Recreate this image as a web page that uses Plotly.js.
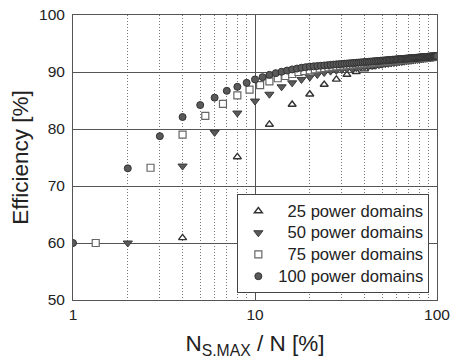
<!DOCTYPE html>
<html>
<head>
<meta charset="utf-8">
<script src="https://cdn.plot.ly/plotly-3.0.1.min.js"></script>
<style>html,body{margin:0;padding:0;background:#fff;}#chart{width:455px;height:362px;}</style>
</head>
<body>
<div id="chart"></div>
<script>
// Efficiency [%]; x = N_S.MAX / N [%]
const x25 = [4,8,12,16,20,24,28,32,36,40,44,48,52,56,60,64,68,72,76,80,84,88,92,96,100];
const eff25 = [60.9,75.1,80.8,84.3,86.1,87.8,88.7,89.55,90.05,90.5,90.9,91.15,91.35,91.55,91.72,91.88,92.0,92.12,92.22,92.32,92.4,92.47,92.53,92.58,92.62];

const x50 = [2,4,6,8,10,12,14,16,18,20,22,24,26,28,30,32,34,36,38,40,42,44,46,48,50,52,54,56,58,60,62,64,66,68,70,72,74,76,78,80,82,84,86,88,90,92,94,96,98,100];
const eff50 = [60.0,73.5,79.4,82.8,84.9,86.1,87.4,88.1,88.7,89.1,89.55,89.9,90.15,90.29,90.42,90.54,90.65,90.75,90.85,90.95,91.04,91.13,91.21,91.29,91.36,91.44,91.51,91.57,91.64,91.7,91.76,91.82,91.88,91.93,91.99,92.04,92.09,92.14,92.19,92.23,92.28,92.32,92.37,92.41,92.45,92.49,92.53,92.57,92.61,92.65];

const x75 = [1.333,2.667,4,5.333,6.667,8,9.333,10.667,12,13.333,14.667,16,17.333,18.667,20,21.333,22.667,24,25.333,26.667,28,29.333,30.667,32,33.333,34.667,36,37.333,38.667,40,41.333,42.667,44,45.333,46.667,48,49.333,50.667,52,53.333,54.667,56,57.333,58.667,60,61.333,62.667,64,65.333,66.667,68,69.333,70.667,72,73.333,74.667,76,77.333,78.667,80,81.333,82.667,84,85.333,86.667,88,89.333,90.667,92,93.333,94.667,96,97.333,98.667,100];
const eff75 = [60.0,73.2,79.0,82.3,84.4,85.9,86.9,87.7,88.35,88.9,89.3,89.65,90.0,90.15,90.3,90.45,90.6,90.7,90.8,90.9,91.0,91.06,91.12,91.18,91.24,91.29,91.34,91.39,91.44,91.49,91.53,91.58,91.62,91.66,91.7,91.74,91.78,91.81,91.85,91.88,91.92,91.95,91.98,92.02,92.05,92.08,92.11,92.13,92.16,92.19,92.22,92.24,92.27,92.3,92.32,92.35,92.37,92.39,92.42,92.44,92.46,92.49,92.51,92.53,92.55,92.57,92.59,92.61,92.63,92.65,92.67,92.69,92.71,92.73,92.75];

const x100 = [1,2,3,4,5,6,7,8,9,10,11,12,13,14,15,16,17,18,19,20,21,22,23,24,25,26,27,28,29,30,31,32,33,34,35,36,37,38,39,40,41,42,43,44,45,46,47,48,49,50,51,52,53,54,55,56,57,58,59,60,61,62,63,64,65,66,67,68,69,70,71,72,73,74,75,76,77,78,79,80,81,82,83,84,85,86,87,88,89,90,91,92,93,94,95,96,97,98,99,100];
const eff100 = [60.0,73.1,78.75,82.1,84.2,85.5,86.7,87.4,88.1,88.7,89.1,89.5,89.8,90.05,90.25,90.45,90.6,90.75,90.85,90.95,91.0,91.05,91.1,91.15,91.2,91.25,91.3,91.34,91.38,91.42,91.46,91.49,91.52,91.56,91.59,91.62,91.65,91.68,91.71,91.74,91.77,91.8,91.82,91.85,91.88,91.9,91.93,91.95,91.98,92.0,92.02,92.04,92.07,92.09,92.11,92.13,92.15,92.17,92.19,92.21,92.23,92.25,92.27,92.28,92.3,92.32,92.34,92.35,92.37,92.39,92.4,92.42,92.43,92.45,92.47,92.48,92.5,92.51,92.53,92.54,92.55,92.57,92.58,92.6,92.61,92.62,92.64,92.65,92.66,92.68,92.69,92.7,92.71,92.72,92.74,92.75,92.76,92.77,92.78,92.8];

const seriesNames = ['\u00a0\u00a025 power domains','\u00a0\u00a050 power domains','\u00a0\u00a075 power domains','100 power domains'];
const xMajorTicks = [1,10,100];
const xMajorLabels = ['1','10','100'];
const xMinorTicks = [2,3,4,5,6,7,8,9,20,30,40,50,60,70,80,90];
const yTicks = [50,60,70,80,90,100];
const yLabels = ['50','60','70','80','90','100'];

function legendLabel(s){ return '<span style="font-size:16.6px">' + s + '</span>'; }

const traces = [
  {x:x25, y:eff25, name:legendLabel(seriesNames[0]), type:'scatter', mode:'markers',
   marker:{symbol:'triangle-up', size:7, color:'#ffffff', line:{color:'#333333', width:1.4}}},
  {x:x50, y:eff50, name:legendLabel(seriesNames[1]), type:'scatter', mode:'markers',
   marker:{symbol:'triangle-down', size:8, color:'#5a5a5a', line:{color:'#3a3a3a', width:1}}},
  {x:x75, y:eff75, name:legendLabel(seriesNames[2]), type:'scatter', mode:'markers',
   marker:{symbol:'square', size:7, color:'#ffffff', line:{color:'#666666', width:1.2}}},
  {x:x100, y:eff100, name:legendLabel(seriesNames[3]), type:'scatter', mode:'markers',
   marker:{symbol:'circle', size:7, color:'#5a5a5a', line:{color:'#333333', width:1}}}
];

const layout = {
  width:455, height:362,
  margin:{l:73, r:18, t:15, b:62, pad:0},
  paper_bgcolor:'#ffffff', plot_bgcolor:'#ffffff',
  font:{family:'"Liberation Sans", Arial, sans-serif', color:'#222222', size:15},
  showlegend:true,
  legend:{x:0.979, y:0.024, xanchor:'right', yanchor:'bottom',
    bgcolor:'#ffffff', bordercolor:'#444444', borderwidth:1,
    font:{size:14.4, color:'#222222'}, tracegroupgap:0},
  xaxis:{type:'log', range:[0,2], tickmode:'array', tickvals:xMajorTicks, ticktext:xMajorLabels,
    showgrid:true, gridcolor:'#555555', gridwidth:1,
    showline:true, mirror:true, linecolor:'#555555', linewidth:1,
    ticks:'', ticklabelstandoff:0, zeroline:false,
    tickfont:{size:15.5},
    minor:{tickmode:'array', tickvals:xMinorTicks, showgrid:true, griddash:'1px,2px', gridcolor:'#777777', gridwidth:1, ticks:''},
    title:{text:'N<sub>S.MAX</sub> / N [%]', font:{size:22.5}, standoff:13}},
  yaxis:{range:[50,100], tickmode:'array', tickvals:yTicks, ticktext:yLabels,
    showgrid:true, gridcolor:'#555555', gridwidth:1,
    showline:true, mirror:true, linecolor:'#555555', linewidth:1,
    ticks:'', ticklabelstandoff:4, zeroline:false,
    tickfont:{size:15.5},
    title:{text:'Efficiency [%]', font:{size:22.5}, standoff:4}}
};

Plotly.newPlot('chart', traces, layout, {displayModeBar:false, staticPlot:true});
</script>
</body>
</html>
